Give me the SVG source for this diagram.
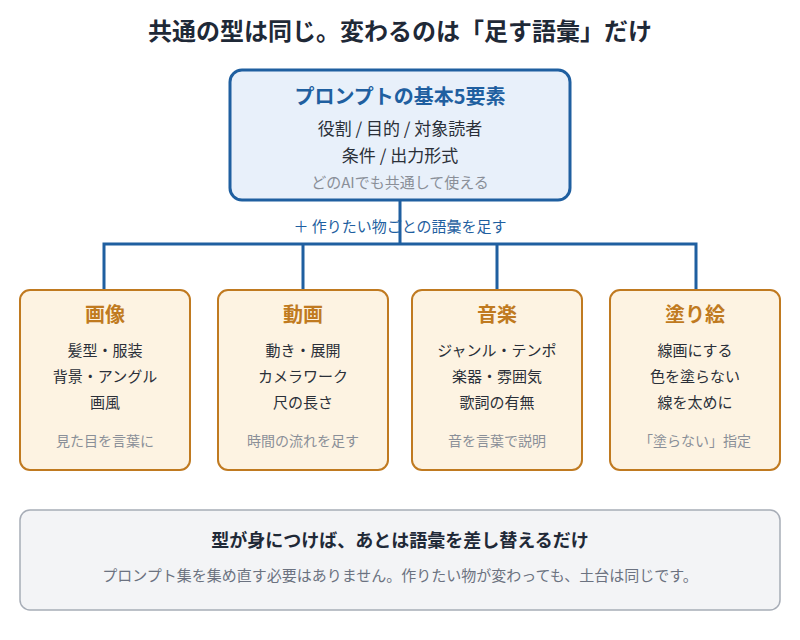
<svg xmlns="http://www.w3.org/2000/svg" width="800" height="640" viewBox="0 0 800 640">
<style>
text{font-family:"Noto Sans CJK JP","Noto Sans",sans-serif;text-anchor:middle}
.title{font-size:24px;font-weight:700;fill:#1f2937}
.top{fill:#e8f0fa;stroke:#1f5fa0;stroke-width:3}
.topt{font-size:20px;font-weight:700;fill:#1f5fa0}
.body{font-size:17px;fill:#2a2f38}
.cbody{font-size:15px;fill:#2a2f38}
.note{font-size:15px;fill:#8a8f98}
.cnote{font-size:14px;fill:#8a8f98}
.card{fill:#fdf3e2;stroke:#c07a20;stroke-width:2}
.cardt{font-size:20px;font-weight:700;fill:#c07a20}
.lbl{font-size:15px;fill:#1f5fa0}
.wire{fill:none;stroke:#1f5fa0;stroke-width:3}
.foot{fill:#f3f4f6;stroke:#a7adb7;stroke-width:1.5}
.footh{font-size:18px;font-weight:700;fill:#1f2937}
.foott{font-size:15px;fill:#6b7280}
</style>
<rect width="800" height="640" fill="#ffffff"/>
<text class="title" x="400" y="40">共通の型は同じ。変わるのは「足す語彙」だけ</text>

<g id="base">
<rect class="top" x="230" y="70" width="340" height="130" rx="12"/>
<text class="topt" x="400" y="104">プロンプトの基本5要素</text>
<text class="body" x="400" y="135">役割 / 目的 / 対象読者</text>
<text class="body" x="400" y="162">条件 / 出力形式</text>
<text class="note" x="400" y="188">どのAIでも共通して使える</text>
</g>

<text class="lbl" x="400" y="232">＋ 作りたい物ごとの語彙を足す</text>

<g id="connectors">
<path class="wire" d="M400 200 V244 M104 290 V244 H696 V290 M303 244 V290 M497 244 V290"/>
</g>

<g id="image">
<rect class="card" x="20" y="290" width="170" height="180" rx="10"/>
<text class="cardt" x="105" y="322">画像</text>
<text class="cbody" x="105" y="356">髪型・服装</text>
<text class="cbody" x="105" y="382">背景・アングル</text>
<text class="cbody" x="105" y="408">画風</text>
<text class="cnote" x="105" y="446">見た目を言葉に</text>
</g>

<g id="video">
<rect class="card" x="218" y="290" width="170" height="180" rx="10"/>
<text class="cardt" x="303" y="322">動画</text>
<text class="cbody" x="303" y="356">動き・展開</text>
<text class="cbody" x="303" y="382">カメラワーク</text>
<text class="cbody" x="303" y="408">尺の長さ</text>
<text class="cnote" x="303" y="446">時間の流れを足す</text>
</g>

<g id="music">
<rect class="card" x="412" y="290" width="170" height="180" rx="10"/>
<text class="cardt" x="497" y="322">音楽</text>
<text class="cbody" x="497" y="356">ジャンル・テンポ</text>
<text class="cbody" x="497" y="382">楽器・雰囲気</text>
<text class="cbody" x="497" y="408">歌詞の有無</text>
<text class="cnote" x="497" y="446">音を言葉で説明</text>
</g>

<g id="coloring">
<rect class="card" x="610" y="290" width="170" height="180" rx="10"/>
<text class="cardt" x="695" y="322">塗り絵</text>
<text class="cbody" x="695" y="356">線画にする</text>
<text class="cbody" x="695" y="382">色を塗らない</text>
<text class="cbody" x="695" y="408">線を太めに</text>
<text class="cnote" x="695" y="446">「塗らない」指定</text>
</g>

<g id="summary">
<rect class="foot" x="20" y="510" width="760" height="100" rx="10"/>
<text class="footh" x="400" y="547">型が身につけば、あとは語彙を差し替えるだけ</text>
<text class="foott" x="400" y="581">プロンプト集を集め直す必要はありません。作りたい物が変わっても、土台は同じです。</text>
</g>
</svg>
